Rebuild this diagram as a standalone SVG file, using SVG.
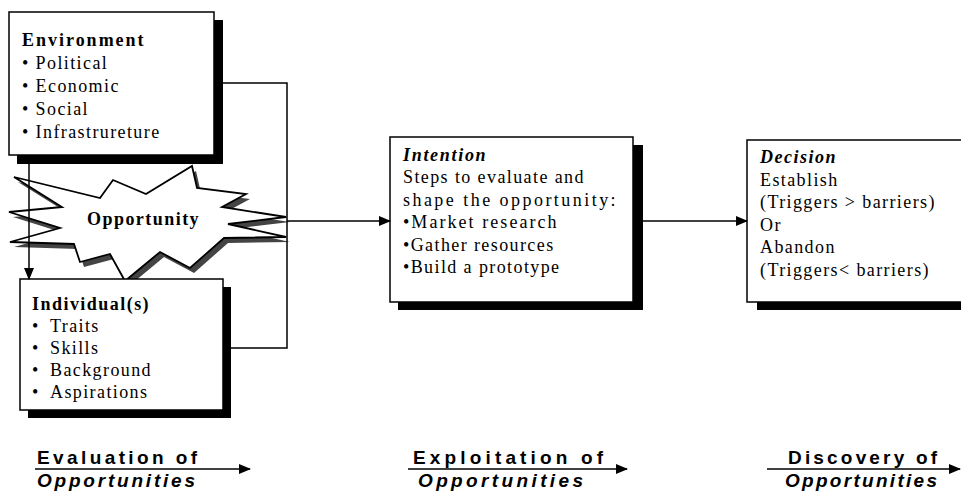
<svg xmlns="http://www.w3.org/2000/svg" width="961" height="494" viewBox="0 0 961 494">
<style>
.box{fill:#fff;stroke:#000;stroke-width:1.5}
.shadow{fill:#000}
.t{font-family:"Liberation Serif","Times New Roman",serif;font-size:18px;fill:#000;letter-spacing:1.4px}
.tb{font-weight:bold}
.ti{font-weight:bold;font-style:italic}
.lab{font-family:"Liberation Sans",Arial,sans-serif;font-size:19px;font-weight:bold;fill:#000}
.labi{font-style:italic}
.conn{fill:none;stroke:#000;stroke-width:1.5}
</style>
<defs>
<marker id="arr" markerWidth="12" markerHeight="10" refX="11" refY="5" orient="auto" markerUnits="userSpaceOnUse">
<path d="M0,0 L12,5 L0,10 Z" fill="#000"/>
</marker>
</defs>
<rect width="961" height="494" fill="#fff"/>

<g id="environment">
<rect class="shadow" x="17" y="20" width="206" height="144"/>
<rect class="box" x="9" y="12" width="205" height="143"/>
<text class="t tb" x="22" y="46" textLength="123">Environment</text>
<text class="t" x="22" y="69">• Political</text>
<text class="t" x="22" y="92">• Economic</text>
<text class="t" x="22" y="115">• Social</text>
<text class="t" x="22" y="138">• Infrastrureture</text>
</g>

<g id="opportunity">
<polygon transform="translate(4,5)" fill="#444" points="14,177 100,198 113,180 146,194 192,166 197,188 246,194 222,207 286,217 228,224 286,237 224,238 190,268 160,252 125,281 110,254 80,262 74,244 10,242 60,228 9,212 62,207"/>
<polygon fill="#fff" stroke="#000" stroke-width="1.8" stroke-linejoin="miter" points="14,177 100,198 113,180 146,194 192,166 197,188 246,194 222,207 286,217 228,224 286,237 224,238 190,268 160,252 125,281 110,254 80,262 74,244 10,242 60,228 9,212 62,207"/>
<text class="t tb" x="87" y="225" font-size="16" textLength="113">Opportunity</text>
</g>

<g id="individual">
<rect class="shadow" x="28" y="287" width="203" height="131"/>
<rect class="box" x="20" y="279" width="203" height="131"/>
<text class="t tb" x="32" y="310" textLength="118">Individual(s)</text>
<text class="t" x="32" y="332">•</text><text class="t" x="50" y="332">Traits</text>
<text class="t" x="32" y="354">•</text><text class="t" x="50" y="354">Skills</text>
<text class="t" x="32" y="376">•</text><text class="t" x="50" y="376">Background</text>
<text class="t" x="32" y="398">•</text><text class="t" x="50" y="398">Aspirations</text>
</g>

<g id="intention">
<rect class="shadow" x="398" y="145" width="245" height="165"/>
<rect class="box" x="390" y="137" width="243" height="165"/>
<text class="t ti" x="403" y="161" textLength="84">Intention</text>
<text class="t" x="403" y="183">Steps to evaluate and</text>
<text class="t" x="403" y="206" textLength="214">shape the opportunity:</text>
<text class="t" x="403" y="228" textLength="155">•Market research</text>
<text class="t" x="403" y="251">•Gather resources</text>
<text class="t" x="403" y="273">•Build a prototype</text>
</g>

<g id="decision">
<rect class="shadow" x="757" y="148" width="230" height="162"/>
<rect class="box" x="747" y="140" width="230" height="162"/>
<text class="t ti" x="760" y="163" textLength="77">Decision</text>
<text class="t" x="760" y="186">Establish</text>
<text class="t" x="760" y="208">(Triggers &gt; barriers)</text>
<text class="t" x="760" y="231">Or</text>
<text class="t" x="760" y="253">Abandon</text>
<text class="t" x="760" y="276">(Triggers&lt; barriers)</text>
</g>

<g id="stage-evaluation">
<text class="lab" x="37" y="464" textLength="160">Evaluation of</text>
<text class="lab labi" x="37" y="487" textLength="158">Opportunities</text>
</g>
<g id="stage-exploitation">
<text class="lab" x="413" y="464" textLength="190">Exploitation of</text>
<text class="lab labi" x="418" y="487" textLength="165">Opportunities</text>
</g>
<g id="stage-discovery">
<text class="lab" x="788" y="464" textLength="149">Discovery of</text>
<text class="lab labi" x="785" y="487" textLength="152">Opportunities</text>
</g>

<g id="connectors">
<line class="conn" x1="29" y1="164" x2="29" y2="279" marker-end="url(#arr)"/>
<polyline class="conn" points="223,83 287,83 287,348 231,348"/>
<line class="conn" x1="287" y1="221" x2="390" y2="221" marker-end="url(#arr)"/>
<line class="conn" x1="643" y1="221" x2="747" y2="221" marker-end="url(#arr)"/>
<line class="conn" x1="35" y1="469" x2="250" y2="469" marker-end="url(#arr)"/>
<line class="conn" x1="408" y1="469" x2="627" y2="469" marker-end="url(#arr)"/>
<line class="conn" x1="767" y1="469" x2="960" y2="469" marker-end="url(#arr)"/>
</g>
</svg>
